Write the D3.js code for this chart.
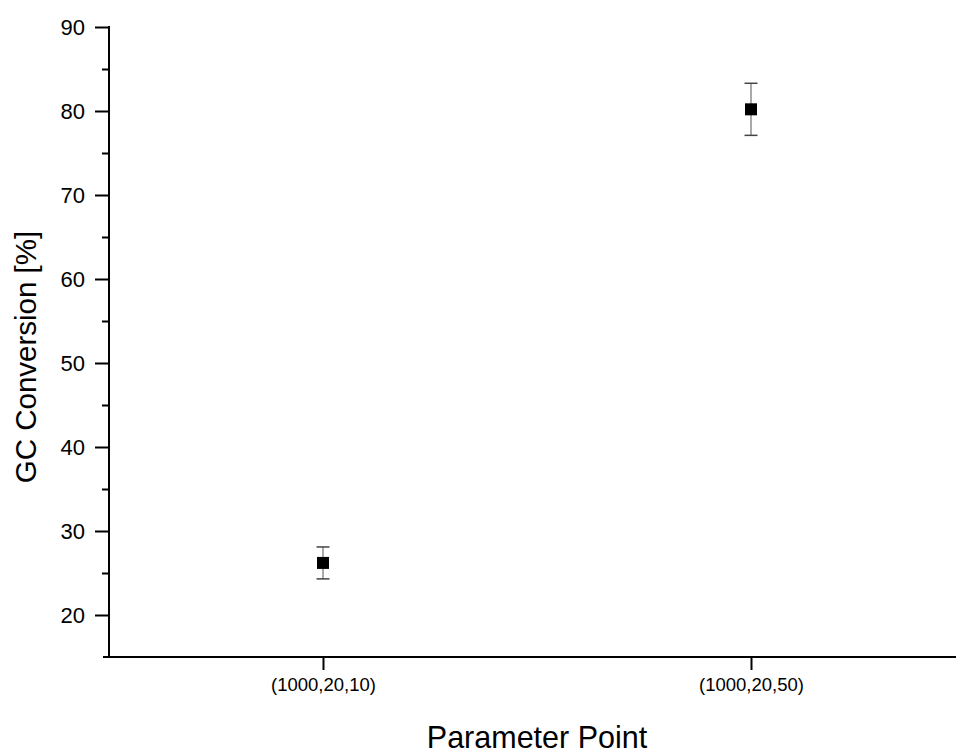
<!DOCTYPE html>
<html>
<head>
  <script src="https://d3js.org/d3.v7.min.js"></script>
  <style>
    body { margin: 0; background: #fff; }
    text { font-family: "Liberation Sans", Arial, sans-serif; }
  </style>
</head>
<body>
  <svg width="956" height="754"></svg>
  <script>
    const categories = ["(1000,20,10)", "(1000,20,50)"];
    const values = [26.2, 80.2];
    const errLow = [24.3, 77.1];
    const errHigh = [28.1, 83.3];
    const yTicks = [20, 30, 40, 50, 60, 70, 80, 90];
    const yMinorTicks = [25, 35, 45, 55, 65, 75, 85];

    const svg = d3.select("svg");
    const padLeft = 109, padTop = 27, padBottom = 657, padRight = 965;

    const x = d3.scaleLinear().domain([0.5, 2.5]).range([padLeft, padRight]);
    const y = d3.scaleLinear().domain([15, 90]).range([padBottom, padTop]);

    // y axis
    const yAxis = svg.append("g").attr("transform", "translate(" + padLeft + ",0)")
      .call(d3.axisLeft(y).tickValues(yTicks).tickSize(14).tickPadding(10).tickFormat(d3.format("d")));
    yAxis.select(".domain").remove();
    yAxis.selectAll(".tick line").attr("stroke", "#000").attr("stroke-width", 2);
    yAxis.selectAll(".tick text").style("font-size", "22px").attr("fill", "#000");

    svg.append("g").attr("transform", "translate(" + padLeft + ",0)")
      .call(d3.axisLeft(y).tickValues(yMinorTicks).tickSize(7).tickFormat(""))
      .call(g => g.select(".domain").remove())
      .selectAll(".tick line").attr("stroke", "#000").attr("stroke-width", 2);

    svg.append("line")
      .attr("x1", padLeft).attr("x2", padLeft).attr("y1", padTop - 1).attr("y2", padBottom)
      .attr("stroke", "#000").attr("stroke-width", 2);

    // x axis
    const xAxis = svg.append("g").attr("transform", "translate(0," + padBottom + ")")
      .call(d3.axisBottom(x).tickValues([1, 2]).tickSize(13).tickPadding(8)
        .tickFormat(d => categories[d - 1]));
    xAxis.select(".domain").remove();
    xAxis.selectAll(".tick line").attr("stroke", "#000").attr("stroke-width", 2);
    xAxis.selectAll(".tick text").style("font-size", "18.5px").attr("fill", "#000");

    svg.append("line")
      .attr("x1", padLeft - 6).attr("x2", 956).attr("y1", padBottom).attr("y2", padBottom)
      .attr("stroke", "#000").attr("stroke-width", 2);

    // error bars
    const pts = categories.map((c, i) => ({ i: i + 1, v: values[i], lo: errLow[i], hi: errHigh[i] }));
    const g = svg.append("g");
    g.selectAll(".err").data(pts).enter().append("line")
      .attr("x1", d => x(d.i)).attr("x2", d => x(d.i))
      .attr("y1", d => y(d.hi)).attr("y2", d => y(d.lo))
      .attr("stroke", "#555").attr("stroke-width", 1);
    ["hi", "lo"].forEach(k => {
      g.selectAll(".cap-" + k).data(pts).enter().append("line")
        .attr("x1", d => x(d.i) - 6.5).attr("x2", d => x(d.i) + 6.5)
        .attr("y1", d => y(d[k])).attr("y2", d => y(d[k]))
        .attr("stroke", "#444").attr("stroke-width", 1.5);
    });
    g.selectAll("rect").data(pts).enter().append("rect")
      .attr("x", d => x(d.i) - 6).attr("y", d => y(d.v) - 6)
      .attr("width", 12).attr("height", 12).attr("fill", "#000");

    // titles
    svg.append("text").attr("x", 537).attr("y", 748)
      .attr("text-anchor", "middle").style("font-size", "30.5px").text("Parameter Point");
    svg.append("text").attr("transform", "translate(36,357) rotate(-90)")
      .attr("text-anchor", "middle").style("font-size", "29.5px").text("GC Conversion [%]");
  </script>
</body>
</html>
